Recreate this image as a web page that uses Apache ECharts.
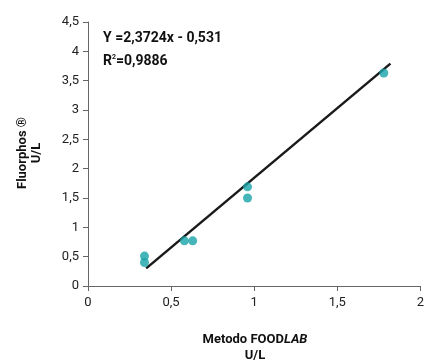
<!DOCTYPE html>
<html>
<head>
<meta charset="utf-8">
<script src="https://cdn.jsdelivr.net/npm/echarts@6/dist/echarts.min.js"></script>
<style>
  html, body { margin: 0; padding: 0; background: #fff; }
  #chart { width: 427px; height: 364px; }
</style>
</head>
<body>
<div id="chart"></div>
<script>
// measured points (FOODLAB vs Fluorphos, U/L)
const foodlab = [0.34, 0.34, 0.58, 0.63, 0.96, 0.96, 1.78];
const fluorphos = [0.51, 0.40, 0.77, 0.77, 1.69, 1.50, 3.63];
// regression line ends as drawn
const fitX = [0.35, 1.82];
const fitY = [0.30, 3.79];
const xTicks = [0, 0.5, 1, 1.5, 2];
const yTicks = [0, 0.5, 1, 1.5, 2, 2.5, 3, 3.5, 4, 4.5];

const chart = echarts.init(document.getElementById("chart"));
const comma = (v) => String(v).replace(".", ",");
const boldFont = "Roboto, 'Liberation Sans', sans-serif";

chart.setOption({
  animation: false,
  grid: { left: 88, right: 5, top: 22, bottom: 78 },
  xAxis: {
    type: "value",
    min: xTicks[0],
    max: xTicks[xTicks.length - 1],
    interval: 0.5,
    splitLine: { show: false },
    axisLine: { lineStyle: { color: "#666", width: 1 } },
    axisTick: { inside: false, length: 5, lineStyle: { color: "#666" } },
    axisLabel: {
      formatter: comma,
      color: "#222",
      fontSize: 13,
      fontFamily: "Roboto, sans-serif",
      margin: 10,
    },
  },
  yAxis: {
    type: "value",
    min: yTicks[0],
    max: yTicks[yTicks.length - 1],
    interval: 0.5,
    splitLine: { show: false },
    axisLine: { show: true, lineStyle: { color: "#666", width: 1 } },
    axisTick: { show: true, length: 5, lineStyle: { color: "#666" } },
    axisLabel: {
      formatter: comma,
      color: "#222",
      fontSize: 13,
      fontFamily: "Roboto, sans-serif",
      margin: 9,
    },
  },
  graphic: [
    {
      type: "text",
      left: 103,
      top: 31,
      style: {
        text: "Y =2,3724x - 0,531",
        font: "bold 14px " + boldFont,
        fill: "#111",
      },
    },
    {
      type: "text",
      left: 103,
      top: 54,
      style: {
        text: "R{s|2}=0,9886",
        font: "bold 14px " + boldFont,
        fill: "#111",
        rich: {
          s: { fontSize: 7, fontWeight: "bold", verticalAlign: "top", fontFamily: boldFont, padding: [0, 0, 8, 0] },
        },
      },
    },
    {
      type: "text",
      x: 30,
      y: 153,
      rotation: Math.PI / 2,
      style: {
        text: "Fluorphos ®\nU/L",
        font: "bold 13px " + boldFont,
        fill: "#111",
        align: "center",
        verticalAlign: "middle",
        lineHeight: 14,
      },
    },
    {
      type: "text",
      x: 255,
      y: 340,
      style: {
        text: "Metodo FOOD{i|LAB}",
        font: "bold 13px " + boldFont,
        fill: "#111",
        align: "center",
        verticalAlign: "middle",
        rich: {
          i: { fontStyle: "italic", fontWeight: "bold", fontSize: 13, fontFamily: boldFont },
        },
      },
    },
    {
      type: "text",
      x: 255,
      y: 356,
      style: {
        text: "U/L",
        font: "bold 13px " + boldFont,
        fill: "#111",
        align: "center",
        verticalAlign: "middle",
      },
    },
  ],
  series: [
    {
      type: "line",
      data: fitX.map((x, i) => [x, fitY[i]]),
      symbol: "none",
      lineStyle: { color: "#1a1a1a", width: 2.5 },
      z: 2,
    },
    {
      type: "scatter",
      data: foodlab.map((x, i) => [x, fluorphos[i]]),
      symbolSize: 9,
      itemStyle: { color: "#17a3a9" },
      z: 3,
    },
  ],
});
</script>
</body>
</html>
